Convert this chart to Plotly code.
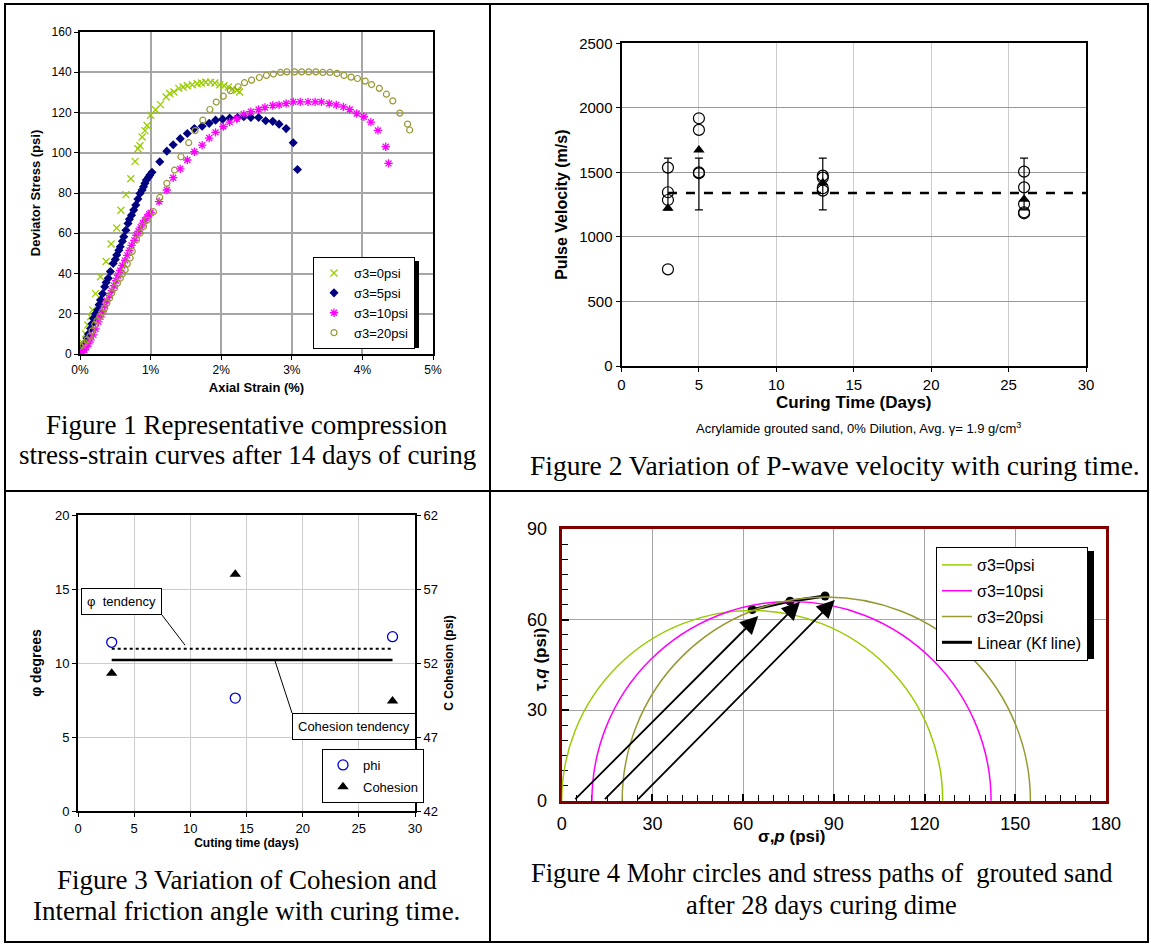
import plotly.graph_objects as go

W, H = 1151, 945
def px(x): return x / W
def py(y): return 1 - y / H

# ---------------- Figure 1 data (axial strain %, deviator stress psi) ----------------
g_x = [0.0, 0.04, 0.08, 0.11, 0.15, 0.18, 0.22, 0.29, 0.37, 0.44, 0.52, 0.58, 0.65, 0.72, 0.78, 0.82, 0.85, 0.88, 0.92, 0.95,
       1.0, 1.07, 1.14, 1.22, 1.27, 1.33, 1.4, 1.46, 1.52, 1.59, 1.66, 1.72, 1.78, 1.85, 1.91, 1.98, 2.04, 2.1, 2.16, 2.22, 2.26]
g_y = [0, 5.5, 10, 14.4, 18.5, 21.9, 30, 38.4, 46, 54.7, 62.6, 71.4, 79.2, 87.1, 95.7, 102, 103.5, 107.8, 111, 113.5,
       118.6, 121.4, 123.9, 127.7, 129.4, 130.2, 132, 132.7, 133.3, 133.8, 134.3, 134.7, 135, 135, 134.7, 133.8, 133.3, 132.7, 131.7, 131, 130.2]

b_x = [0.0, 0.03, 0.07, 0.1, 0.12, 0.15, 0.17, 0.19, 0.22, 0.25, 0.27, 0.29, 0.32, 0.35, 0.37, 0.4, 0.43, 0.47, 0.5, 0.52,
       0.55, 0.57, 0.6, 0.62, 0.65, 0.68, 0.7, 0.73, 0.76, 0.79, 0.82, 0.85, 0.88, 0.9, 0.92, 0.94, 0.97, 0.99, 1.02,
       1.13, 1.23, 1.32, 1.42, 1.52, 1.62, 1.73, 1.83, 1.92, 2.02, 2.12, 2.23, 2.32, 2.42, 2.53, 2.63, 2.73, 2.82, 2.92, 3.02, 3.08]
b_y = [1.5, 3, 5.5, 7.8, 10, 12.7, 15, 17.7, 20, 21.9, 24.5, 26.8, 30, 33.4, 35.5, 37.6, 41, 45, 47, 49.2,
       51.5, 53.3, 56, 58.3, 61.5, 64.9, 67, 69, 71.5, 74, 77, 79.8, 81.5, 83.1, 84.8, 86.4, 87.8, 88.9, 90.3,
       95.5, 100.8, 104, 107, 109.6, 112, 113.2, 114.6, 116.2, 116.7, 117.2, 117.5, 117.9, 117.5, 117.5, 115.9, 115.6, 114.2, 112, 105, 91.7]

m_x = [0.0, 0.03, 0.06, 0.09, 0.12, 0.15, 0.19, 0.22, 0.26, 0.29, 0.32, 0.35, 0.38, 0.42, 0.45, 0.48, 0.51, 0.54, 0.57, 0.6,
       0.64, 0.67, 0.7, 0.73, 0.77, 0.8, 0.83, 0.86, 0.89, 0.92, 0.95, 0.98, 1.0,
       1.12, 1.23, 1.32, 1.42, 1.52, 1.62, 1.73, 1.83, 1.92, 2.03, 2.12, 2.22, 2.32, 2.42, 2.53, 2.62, 2.73, 2.82, 2.92, 3.02,
       3.12, 3.23, 3.33, 3.42, 3.53, 3.63, 3.73, 3.82, 3.92, 4.02, 4.12, 4.22, 4.33, 4.37]
m_y = [0, 1, 2, 3.5, 5, 7, 9.5, 12.5, 16, 18.5, 21, 24, 26.5, 29, 31.5, 34, 36.5, 39, 41.5, 44,
       46.5, 49, 51.5, 54, 56.5, 59, 61, 63, 65, 66.5, 68, 69.5, 70.2,
       75.7, 81.5, 87.6, 92, 96.4, 100.5, 103.8, 107.3, 110.1, 113, 115.2, 116.9, 119.2, 120.4, 121.5, 122.5, 123.5, 123.8, 124.5, 125.3,
       125.3, 125.3, 125.3, 125.3, 124.5, 123.8, 122.8, 121.5, 119.5, 117.9, 115.2, 111.1, 103, 94.7]

o_x = [0.0, 0.04, 0.07, 0.1, 0.14, 0.17, 0.21, 0.24, 0.28, 0.31, 0.35, 0.38, 0.42, 0.45, 0.49, 0.53, 0.57, 0.6, 0.64, 0.67,
       0.71, 0.74, 0.8, 0.85, 0.9, 0.95, 1.04, 1.13, 1.23, 1.34, 1.43, 1.54, 1.63, 1.74, 1.84, 1.93, 2.03, 2.13, 2.24, 2.33,
       2.43, 2.54, 2.64, 2.74, 2.84, 2.93, 3.04, 3.14, 3.24, 3.34, 3.44, 3.54, 3.64, 3.74, 3.84, 3.93, 4.04, 4.13, 4.24, 4.34,
       4.43, 4.53, 4.64, 4.67]
o_y = [3.8, 4.5, 5.5, 7, 8.8, 11.5, 14.6, 16.5, 18.7, 20.7, 22.8, 25.3, 27.8, 30.3, 32.8, 35.2, 37.7, 39.8, 41.9, 44.8,
       47.7, 51, 56.8, 60, 63.4, 66.5, 70.7, 77.8, 84.8, 91.4, 98, 105, 111, 116.2, 121.5, 125.2, 128.1, 130.8, 132.8, 134.8,
       136.1, 137.4, 138.4, 139.1, 139.9, 140.2, 140.2, 140.2, 140.2, 140.2, 139.9, 139.9, 139.4, 138.4, 137.6, 136.9, 135.6, 133.9, 132, 129.1,
       125.8, 119.7, 114.2, 111.3]
f1_names = ["σ3=0psi", "σ3=5psi", "σ3=10psi", "σ3=20psi"]

# ---------------- Figure 2 data (curing days, pulse velocity m/s) ----------------
pv_days = [3, 3, 3, 3, 5, 5, 5, 5, 13, 13, 13, 13, 26, 26, 26, 26, 26]
pv_vals = [1537, 1346, 1286, 749, 1919, 1829, 1500, 1493, 1475, 1459, 1377, 1359, 1506, 1384, 1255, 1191, 1183]
mean_days = [3, 5, 13, 26]
mean_vals = [1222, 1674, 1420, 1291]
avg_days = [3, 30]
avg_vel = [1340, 1340]
err_days = [3, 5, 13, 26]
err_base = [1340, 1340, 1340, 1340]
err_plus = [270, 270, 270, 270]
err_minus = [130, 130, 130, 130]

# ---------------- Figure 3 data ----------------
f3_days = [3, 14, 28]
phi_deg = [11.4, 7.63, 11.78]
coh_psi = [51.3, 58.0, 49.43]
trend_days = [3, 28]
phi_trend = [10.97, 10.97]
coh_trend = [52.2, 52.2]

# ---------------- Figure 4 data ----------------
mohr_s3 = [0, 10, 20]
mohr_s1 = [126, 142, 155]
mohr_names = ["σ3=0psi", "σ3=10psi", "σ3=20psi"]
mohr_colors = ["#99CC00", "#FF00FF", "#999933"]
kf_p = [63.0, 75.5, 87.1]
kf_q = [63.3, 66.1, 67.8]
path_p0 = [4.0, 13.8, 24.8]
path_tip_p = [65.0, 78.8, 90.3]
path_tip_q = [61.2, 65.9, 66.5]

SANS = "Liberation Sans, Arial, sans-serif"
SERIF = "Liberation Serif, Times New Roman, serif"

fig = go.Figure()

# Figure 1 traces
fig.add_trace(go.Scatter(x=g_x, y=g_y, mode="markers", name=f1_names[0], legend="legend",
                         marker=dict(symbol="x-thin-open", size=7, color="#99CC00", line=dict(color="#99CC00", width=1.3)),
                         xaxis="x", yaxis="y"))
fig.add_trace(go.Scatter(x=b_x, y=b_y, mode="markers", name=f1_names[1], legend="legend",
                         marker=dict(symbol="diamond", size=7, color="#000080"), xaxis="x", yaxis="y"))
fig.add_trace(go.Scatter(x=m_x, y=m_y, mode="markers", name=f1_names[2], legend="legend",
                         marker=dict(symbol="asterisk-open", size=7, color="#FF00FF", line=dict(color="#FF00FF", width=1.3)),
                         xaxis="x", yaxis="y"))
fig.add_trace(go.Scatter(x=o_x, y=o_y, mode="markers", name=f1_names[3], legend="legend",
                         marker=dict(symbol="circle-open", size=6, color="#999933", line=dict(color="#999933", width=1.2)),
                         xaxis="x", yaxis="y"))

# Figure 2 traces
fig.add_trace(go.Scatter(x=avg_days, y=avg_vel, mode="lines", showlegend=False,
                         line=dict(color="black", width=2.5, dash="dash"), xaxis="x2", yaxis="y2"))
fig.add_trace(go.Scatter(x=err_days, y=err_base, mode="markers", showlegend=False,
                         marker=dict(size=1, opacity=0),
                         error_y=dict(type="data", symmetric=False, array=err_plus, arrayminus=err_minus,
                                      color="black", thickness=1.2, width=4),
                         xaxis="x2", yaxis="y2"))
fig.add_trace(go.Scatter(x=pv_days, y=pv_vals, mode="markers", showlegend=False,
                         marker=dict(symbol="circle-open", size=11, color="black", line=dict(color="black", width=1.2)),
                         xaxis="x2", yaxis="y2"))
fig.add_trace(go.Scatter(x=mean_days, y=mean_vals, mode="markers", showlegend=False,
                         marker=dict(symbol="triangle-up", size=10, color="black"), xaxis="x2", yaxis="y2"))

# Figure 3 traces
fig.add_trace(go.Scatter(x=trend_days, y=phi_trend, mode="lines", showlegend=False,
                         line=dict(color="black", width=2, dash="dot"), xaxis="x3", yaxis="y3"))
fig.add_trace(go.Scatter(x=trend_days, y=coh_trend, mode="lines", showlegend=False,
                         line=dict(color="black", width=2.5), xaxis="x3", yaxis="y5"))
fig.add_trace(go.Scatter(x=f3_days, y=phi_deg, mode="markers", name="phi", legend="legend3", legendgroup="a",
                         marker=dict(symbol="circle-open", size=10, color="#0000CC", line=dict(color="#0000CC", width=1.3)),
                         xaxis="x3", yaxis="y3"))
fig.add_trace(go.Scatter(x=f3_days, y=coh_psi, mode="markers", name="Cohesion", legend="legend3", legendgroup="b",
                         marker=dict(symbol="triangle-up", size=10, color="black"), xaxis="x3", yaxis="y5"))

# Figure 4 traces (legend entries for the Mohr circles, circles drawn as shapes on the same axes)
for i, nm in enumerate(mohr_names):
    fig.add_trace(go.Scatter(x=[None], y=[None], mode="lines", name=nm, legend="legend4", legendgroup=f"m{i}",
                             line=dict(color=mohr_colors[i], width=1.5), xaxis="x4", yaxis="y4"))
fig.add_trace(go.Scatter(x=kf_p, y=kf_q, mode="lines", name="Linear (Kf line)", legend="legend4", legendgroup="kf",
                         line=dict(color="black", width=3), xaxis="x4", yaxis="y4"))
fig.add_trace(go.Scatter(x=kf_p, y=kf_q, mode="markers", showlegend=False,
                         marker=dict(symbol="circle", size=9, color="black"), xaxis="x4", yaxis="y4"))

shapes = []
for s3, s1, c in zip(mohr_s3, mohr_s1, mohr_colors):
    r = (s1 - s3) / 2
    shapes.append(dict(type="circle", xref="x4", yref="y4", x0=s3, x1=s1, y0=-r, y1=r,
                       line=dict(color=c, width=1.5), layer="above"))

annotations = []
for p0, tp, tq in zip(path_p0, path_tip_p, path_tip_q):
    annotations.append(dict(x=tp, y=tq, xref="x4", yref="y4", ax=p0, ay=0, axref="x4", ayref="y4",
                            showarrow=True, arrowhead=2, arrowsize=2.0, arrowwidth=1.8, arrowcolor="black",
                            standoff=0, text=""))

# Table frame
shapes += [
    dict(type="rect", xref="paper", yref="paper", x0=px(5), x1=px(1148), y0=py(942), y1=py(4),
         line=dict(color="black", width=2)),
    dict(type="line", xref="paper", yref="paper", x0=px(490), x1=px(490), y0=py(942), y1=py(4),
         line=dict(color="black", width=2)),
    dict(type="line", xref="paper", yref="paper", x0=px(5), x1=px(1148), y0=py(491), y1=py(491),
         line=dict(color="black", width=2)),
]
# legend drop shadows
shapes += [
    dict(type="rect", xref="paper", yref="paper", x0=px(316), x1=px(419), y0=py(348), y1=py(261),
         fillcolor="black", line=dict(width=0), layer="above"),
    dict(type="rect", xref="paper", yref="paper", x0=px(940), x1=px(1094), y0=py(659), y1=py(551),
         fillcolor="black", line=dict(width=0), layer="above"),
]

def cap(text, x, y, size=27):
    return dict(text=text, x=px(x), y=py(y), xref="paper", yref="paper", xanchor="center", yanchor="middle",
                showarrow=False, font=dict(family=SERIF, size=size, color="black"))

annotations += [
    cap("Figure 1 Representative compression", 247, 425),
    cap("stress-strain curves after 14 days of curing", 247, 455),
    cap("Figure 2 Variation of P-wave velocity with curing time.", 835, 465, 27.5),
    cap("Figure 3 Variation of Cohesion and", 247, 880),
    cap("Internal friction angle with curing time.", 246, 911),
    cap("Figure 4 Mohr circles and stress paths of  grouted sand", 821, 873, 26.5),
    cap("after 28 days curing dime", 821, 905, 26.5),
    dict(text="Acrylamide grouted sand, 0% Dilution, Avg. γ= 1.9 g/cm<sup>3</sup>", x=px(858), y=py(428), xref="paper", yref="paper",
         xanchor="center", yanchor="middle", showarrow=False, font=dict(family=SANS, size=13, color="black")),
    # Figure 4 axis titles
    dict(text="<b>σ,<i>p</i> (psi)</b>", x=px(791), y=py(836), xref="paper", yref="paper", xanchor="center", yanchor="middle",
         showarrow=False, font=dict(family=SANS, size=17, color="black")),
    dict(text="<b>τ,<i>q</i> (psi)</b>", x=px(540), y=py(660), xref="paper", yref="paper", xanchor="center", yanchor="middle",
         showarrow=False, textangle=-90, font=dict(family=SANS, size=17, color="black")),
    # Figure 3 callouts
    dict(text="φ  tendency", x=9.53, y=11.2, xref="x3", yref="y3", ax=7.48, ay=13.24, axref="x3", ayref="y3",
         xanchor="right", yanchor="bottom", showarrow=True, arrowhead=0, arrowwidth=1, arrowcolor="black",
         bordercolor="black", borderwidth=1, bgcolor="white", borderpad=5,
         font=dict(family=SANS, size=13, color="black")),
    dict(text="Cohesion tendency", x=17.54, y=10.14, xref="x3", yref="y3", ax=19.05, ay=6.62, axref="x3", ayref="y3",
         xanchor="left", yanchor="top", showarrow=True, arrowhead=0, arrowwidth=1, arrowcolor="black",
         bordercolor="black", borderwidth=1, bgcolor="white", borderpad=5,
         font=dict(family=SANS, size=13, color="black")),
]

tick_font = dict(family=SANS, size=12, color="black")
common_box = dict(showline=True, linecolor="black", linewidth=2, mirror=True, ticks="outside", ticklen=4,
                  tickcolor="black", zeroline=False, automargin=False)

fig.update_layout(
    width=W, height=H, autosize=False, margin=dict(l=0, r=0, t=0, b=0, autoexpand=False),
    paper_bgcolor="white", plot_bgcolor="white", font=dict(family=SANS, color="black"),
    # Figure 1 axes
    xaxis=dict(domain=[px(80), px(433)], anchor="y", range=[0, 5], dtick=1, ticksuffix="%",
               showgrid=True, gridcolor="#A6A6A6", gridwidth=1.5, tickfont=tick_font,
               title=dict(text="<b>Axial Strain (%)</b>", font=dict(family=SANS, size=13), standoff=6), **common_box),
    yaxis=dict(domain=[py(354), py(32)], anchor="x", range=[0, 160], dtick=20,
               showgrid=True, gridcolor="#A6A6A6", gridwidth=1.5, tickfont=tick_font,
               title=dict(text="<b>Deviator Stress (psi)</b>", font=dict(family=SANS, size=13), standoff=8), **common_box),
    # Figure 2 axes
    xaxis2=dict(domain=[px(621.5), px(1086)], anchor="y2", range=[0, 30], dtick=5,
                showgrid=True, gridcolor="#CCCCCC", gridwidth=1.2, tickfont=dict(family=SANS, size=15),
                title=dict(text="<b>Curing Time (Days)</b>", font=dict(family=SANS, size=17), standoff=2), **common_box),
    yaxis2=dict(domain=[py(366), py(43.3)], anchor="x2", range=[0, 2500], dtick=500,
                showgrid=True, gridcolor="#999999", gridwidth=1.2, tickfont=dict(family=SANS, size=15),
                title=dict(text="<b>Pulse Velocity (m/s)</b>", font=dict(family=SANS, size=16), standoff=8), **common_box),
    # Figure 3 axes
    xaxis3=dict(domain=[px(78), px(415)], anchor="y3", range=[0, 30], dtick=5,
                showgrid=True, gridcolor="#CCCCCC", gridwidth=1.2, tickfont=dict(family=SANS, size=13),
                title=dict(text="<b>Cuting time (days)</b>", font=dict(family=SANS, size=12), standoff=4),
                **common_box),
    yaxis3=dict(domain=[py(811), py(515)], anchor="x3", range=[0, 20], dtick=5,
                showgrid=True, gridcolor="#CCCCCC", gridwidth=1.2, tickfont=dict(family=SANS, size=13),
                title=dict(text="<b>φ degrees</b>", font=dict(family=SANS, size=14), standoff=10),
                showline=True, linecolor="black", linewidth=2, mirror=False, ticks="outside", ticklen=4,
                tickcolor="black", zeroline=False, automargin=False),
    yaxis5=dict(overlaying="y3", anchor="x3", side="right", range=[42, 62], tick0=42, dtick=5, showgrid=False,
                tickfont=dict(family=SANS, size=13),
                title=dict(text="<b>C Cohesion (psi)</b>", font=dict(family=SANS, size=12), standoff=8),
                showline=True, linecolor="black", linewidth=2, ticks="outside", ticklen=4, tickcolor="black",
                zeroline=False, automargin=False),
    # Figure 4 axes
    xaxis4=dict(domain=[px(561.7), px(1106)], anchor="y4", range=[0, 180], dtick=30,
                showgrid=True, gridcolor="#A6A6A6", gridwidth=1.2, tickfont=dict(family=SANS, size=18),
                showline=True, linecolor="#800000", linewidth=3, mirror=True, ticks="inside", ticklen=7,
                tickcolor="black", tickwidth=1.5, zeroline=False, ticklabelstandoff=5, automargin=False,
                minor=dict(dtick=5, ticks="inside", ticklen=6, tickcolor="black", tickwidth=1.2, showgrid=False)),
    yaxis4=dict(domain=[py(800.7), py(529)], anchor="x4", range=[0, 90], dtick=30,
                showgrid=True, gridcolor="#A6A6A6", gridwidth=1.2, tickfont=dict(family=SANS, size=18),
                showline=True, linecolor="#800000", linewidth=3, mirror=True, ticks="inside", ticklen=7,
                tickcolor="black", tickwidth=1.5, zeroline=False, ticklabelstandoff=8, automargin=False,
                minor=dict(dtick=5, ticks="inside", ticklen=6, tickcolor="black", tickwidth=1.2, showgrid=False)),
    legend=dict(x=px(313), y=py(257), xanchor="left", yanchor="top", bgcolor="white", bordercolor="black", borderwidth=1,
                font=dict(family=SANS, size=13), itemwidth=30),
    legend3=dict(x=px(322), y=py(749), xanchor="left", yanchor="top", bgcolor="white", bordercolor="black", borderwidth=1,
                 font=dict(family=SANS, size=13), tracegroupgap=2),
    legend4=dict(x=px(936), y=py(547), xanchor="left", yanchor="top", bgcolor="white", bordercolor="black", borderwidth=1,
                 font=dict(family=SANS, size=16), tracegroupgap=2),
    shapes=shapes,
    annotations=annotations,
)

fig.write_html("out.html", config={"displayModeBar": False},
               post_script="document.body.style.margin='0px';document.body.style.overflow='hidden';")
